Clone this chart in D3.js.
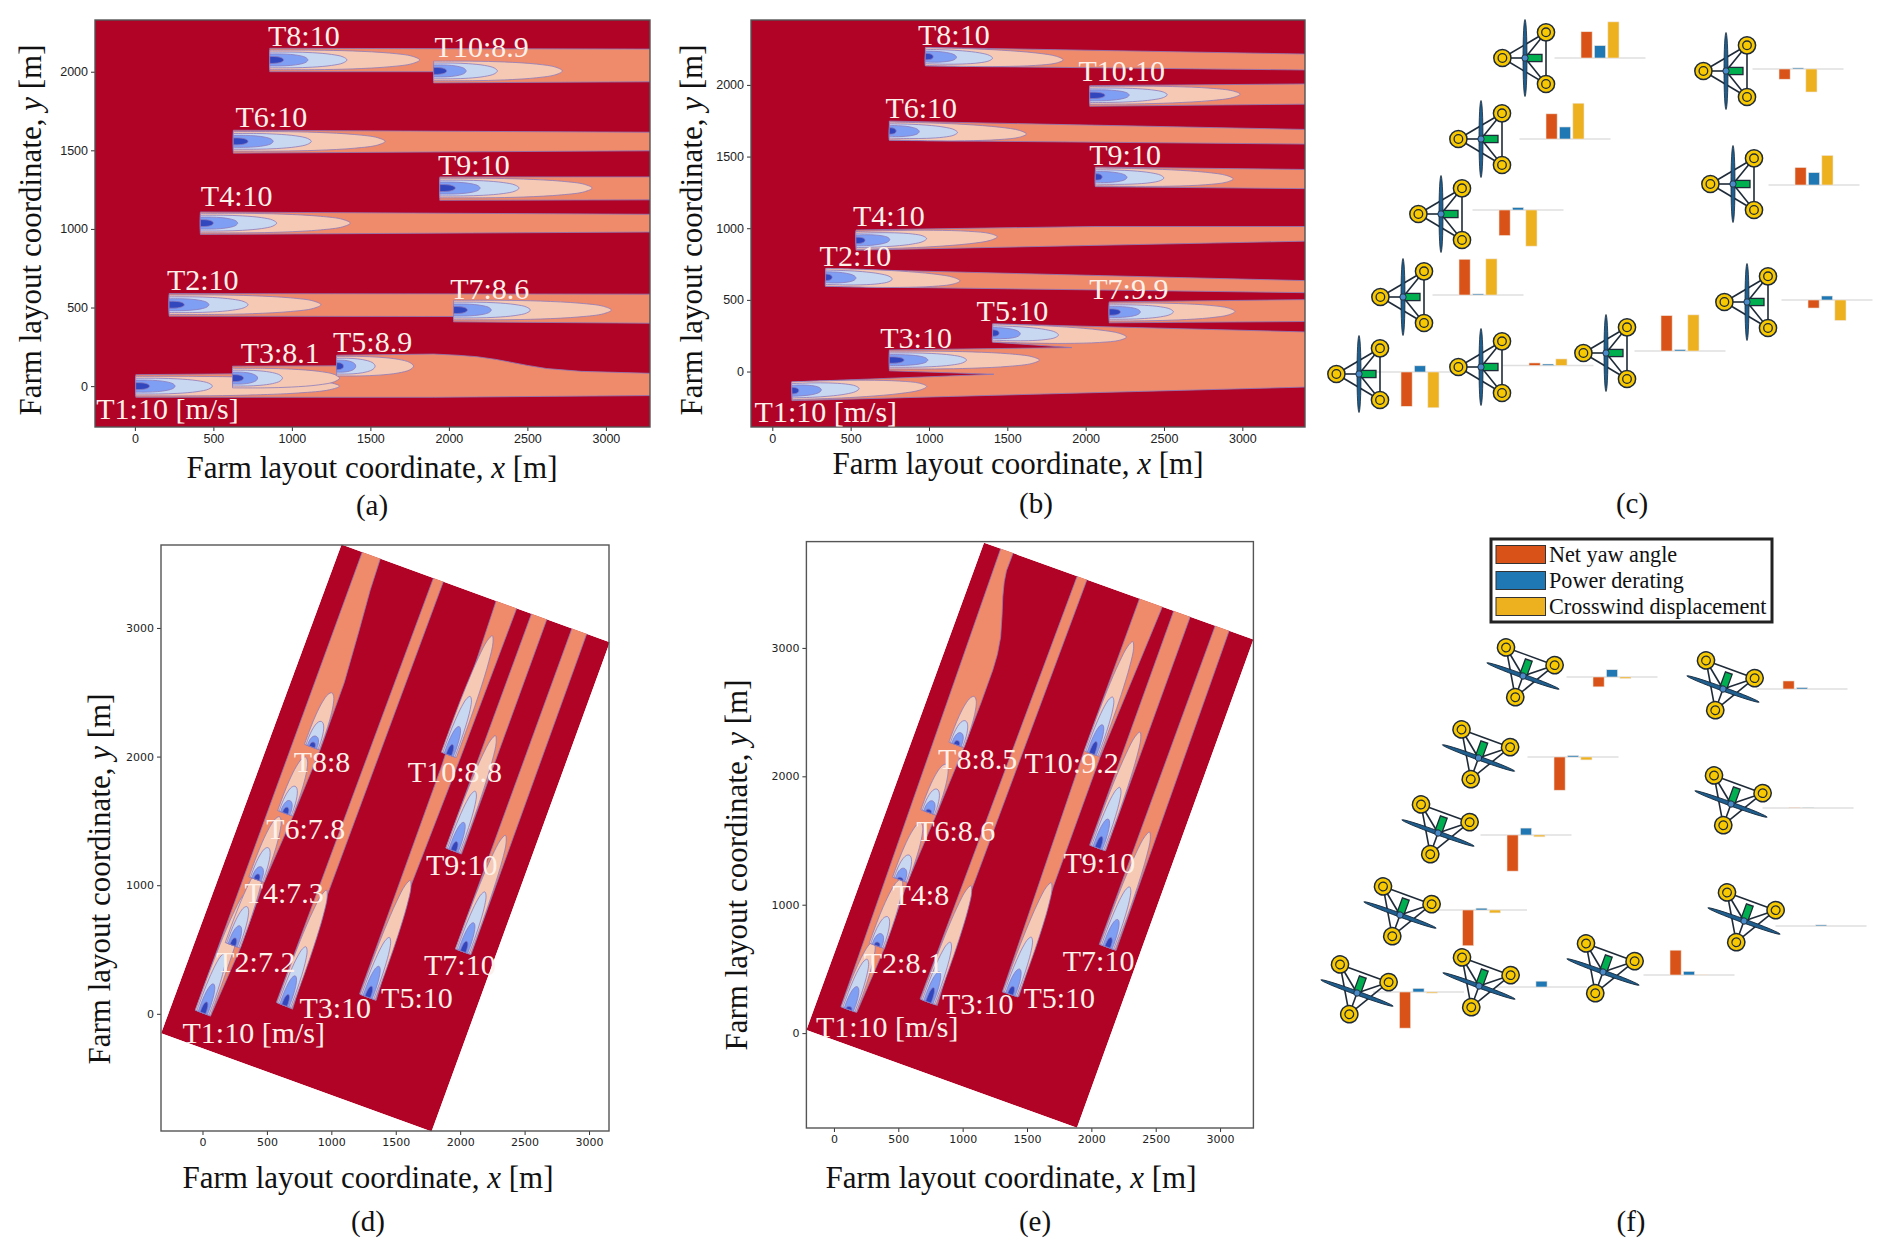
<!DOCTYPE html>
<html>
<head>
<meta charset="utf-8">
<script src="https://cdn.jsdelivr.net/npm/d3@7"></script>
<style>
  html, body { margin: 0; padding: 0; background: #fff; }
  svg { display: block; }
  text { font-family: "Liberation Serif", serif; }
</style>
</head>
<body>
<svg></svg>
<script>
const width = 1892, height = 1256;

const turbineNames = ["T1", "T2", "T3", "T4", "T5", "T6", "T7", "T8", "T9", "T10"];

// wind speed text per panel
const speedsA = ["10 [m/s]", "10", "8.1", "10", "8.9", "10", "8.6", "10", "10", "8.9"];
const speedsB = ["10 [m/s]", "10", "10", "10", "10", "10", "9.9", "10", "10", "10"];
const speedsD = ["10 [m/s]", "7.2", "10", "7.3", "10", "7.8", "10", "8", "10", "8.8"];
const speedsE = ["10 [m/s]", "8.1", "10", "8", "10", "8.6", "10", "8.5", "10", "9.2"];

// turbine rotor positions in metres, [x, y]
const turbinesA = [[5, 0], [218, 518], [622, 51], [417, 1037], [1285, 127], [627, 1557], [2030, 484], [859, 2075], [1942, 1260], [1903, 2005]];
const turbinesB = [[125, -134], [340, 658], [747, 80], [534, 915], [1406, 269], [747, 1679], [2150, 415], [977, 2198], [2062, 1358], [2026, 1927]];
const turbinesD = [[3, 7], [235, 533], [636, 65], [419, 1044], [1282, 130], [642, 1559], [2022, 483], [850, 2074], [1948, 1268], [1912, 2013]];
const turbinesE = [[116, 183], [333, 680], [734, 241], [514, 1194], [1371, 302], [734, 1719], [2126, 669], [952, 2245], [2049, 1442], [2004, 2176]];

// wake direction of each turbine, degrees
const anglesA = [0, 0, 0, 0, 0, 0, 0, 0, 0, 0];
const anglesB = [2, -1.7, 0, 1.6, -1.9, -1.4, 0.3, -1.5, -0.9, 0.5];
const anglesD = [70, 70, 70, 70, 70, 70, 70, 70, 70, 70];
const anglesE = [70, 70, 70, 70, 70, 70, 70, 70, 70, 70];

// contour lengths in metres: pale, light blue, blue, dark
const paleA = [1298, 967, 682, 955, 490, 967, 1005, 955, 970, 820];
const lightA = [489, 503, 318, 486, 245, 497, 489, 492, 505, 406];
const blueA = [251, 254, 160, 238, 122, 254, 240, 243, 257, 207];
const darkA = [88, 97, 70, 83, 44, 94, 88, 88, 99, 83];

const paleB = [861, 858, 958, 902, 855, 875, 803, 880, 880, 960];
const lightB = [429, 426, 493, 451, 421, 435, 410, 429, 437, 495];
const blueB = [188, 194, 246, 216, 177, 191, 199, 199, 202, 252];
const darkB = [44, 42, 94, 58, 42, 44, 72, 50, 44, 97];

const paleD = [1000, 650, 954, 520, 965, 465, 963, 449, 952, 986];
const lightD = [490, 320, 486, 264, 494, 224, 495, 212, 493, 484];
const blueD = [240, 161, 245, 105, 255, 105, 240, 90, 235, 235];
const darkD = [90, 60, 90, 45, 90, 50, 85, 40, 75, 85];

const paleE = [560, 551, 965, 472, 925, 398, 954, 401, 961, 929];
const lightE = [417, 242, 497, 205, 474, 193, 500, 200, 502, 470];
const blueE = [190, 100, 250, 95, 210, 95, 230, 100, 240, 240];
const darkE = [25, 30, 120, 20, 65, 25, 80, 35, 95, 100];

// half width of each contour at the rotor, metres
const wakeHalfWidths = [62, 50, 38, 22];
// contour outline, [fraction of length, fraction of half width]
const wakeProfile = [[0, 1], [0.3, 1], [0.55, 0.92], [0.8, 0.7], [0.95, 0.38], [1, 0]];

// far wake regions (salmon), outlines in metres
const farWakesA = [
  [[859, 2149], [3300, 2144], [3300, 1936], [1903, 1929], [1903, 2000], [859, 2000]],
  [[627, 1628], [3300, 1615], [3300, 1497], [627, 1482]],
  [[1942, 1331], [3300, 1331], [3300, 1185], [1942, 1182]],
  [[417, 1108], [3300, 1093], [3300, 980], [417, 965]],
  [[218, 589], [3300, 585], [3300, 400], [2030, 409], [2030, 443], [218, 445]],
  [[6, 73], [622, 78], [622, 127], [1285, 129], [1285, 197], [1903, 204], [2050, 197], [2180, 187], [2300, 170], [2400, 151], [2500, 132], [2622, 112], [2842, 94], [3300, 81], [3300, -60], [1903, -71], [6, -71]]
];
const farWakesB = [
  [[977, 2262], [3420, 2215], [3420, 2104], [977, 2132]],
  [[2026, 1995], [3420, 2007], [3420, 1866], [2026, 1851]],
  [[747, 1748], [3420, 1689], [3420, 1587], [747, 1613]],
  [[2062, 1427], [3420, 1410], [3420, 1276], [2062, 1290]],
  [[534, 988], [2051, 1012], [3420, 1012], [3420, 910], [534, 847]],
  [[340, 717], [3420, 634], [3420, 550], [340, 594]],
  [[2150, 486], [3420, 502], [3420, 349], [2150, 340]],
  [[1406, 333], [3420, 276], [3420, -108], [125, -203], [125, -73], [1414, -19], [747, 5], [747, 151], [1912, 167], [1406, 205]]
];
const farWakesD = [
  [[-56, 29], [1280, 3700], [1420, 3650], [1377, 3529], [1302, 3295], [1213, 2971], [1100, 2575], [910, 2045], [699, 1530], [476, 1019], [291, 504], [62, -18]],
  [[574, 90], [1830, 3490], [1910, 3470], [960, 900], [699, 36]],
  [[1219, 155], [1850, 1910], [2325, 3350], [2490, 3290], [1993, 1968], [1615, 990], [1347, 104]],
  [[1888, 1289], [2590, 3210], [2710, 3170], [2010, 1242]],
  [[1963, 504], [2905, 3100], [3020, 3060], [2084, 461]]
];
const farWakesE = [
  [[54, 205], [1340, 3900], [1430, 3860], [1389, 3730], [1340, 3600], [1323, 3514], [1312, 3400], [1306, 3250], [1295, 3083], [1270, 2950], [1235, 2830], [1145, 2579], [1011, 2227], [794, 1698], [571, 1176], [393, 662], [178, 162]],
  [[669, 266], [1935, 3680], [2010, 3650], [1065, 1104], [803, 216]],
  [[1308, 320], [1942, 2194], [2420, 3510], [2605, 3450], [2067, 2147], [1704, 1140], [1436, 284]],
  [[1986, 1464], [2680, 3400], [2810, 3360], [2111, 1421]],
  [[2061, 691], [3005, 3290], [3115, 3260], [2192, 644]]
];

// edge of the simulated field in the rotated panels
const fieldD = [[-321, -151], [1778, -915], [3161, 2888], [1079, 3648]];
const fieldE = [[-214, 25], [1888, -737], [3259, 3065], [1166, 3820]];

// where the turbine labels start, metres
const labelsA = [[-246, -210], [204, 611], [674, 144], [420, 1144], [1262, 219], [641, 1646], [2008, 553], [848, 2166], [1931, 1342], [1909, 2095]];
const labelsB = [[-113, -351], [302, 733], [689, 163], [515, 1017], [1304, 351], [722, 1771], [2023, 505], [930, 2278], [2023, 1441], [1954, 2026]];
const labelsD = [[-155, -227], [107, 324], [752, -29], [327, 864], [1386, 43], [494, 1358], [1719, 299], [708, 1880], [1734, 1080], [1594, 1800]];
const labelsE = [[-140, -29], [232, 468], [839, 151], [455, 996], [1472, 194], [639, 1500], [1778, 482], [809, 2058], [1784, 1248], [1481, 2022]];

const xTicks = [0, 500, 1000, 1500, 2000, 2500, 3000];
const yTicksTop = [0, 500, 1000, 1500, 2000];
const yTicksBottom = [0, 1000, 2000, 3000];

// bar values, percent of the largest action
const actions = ["Net yaw angle", "Power derating", "Crosswind displacement"];
const actionColors = ["#d95319", "#1f78b4", "#edb120"];

const yawC = [-94, 98, 7, -70, 97, 69, -22, 72, 48, -28];
const derateC = [17, 3, 4, 7, 4, 33, 11, 34, 34, 3];
const crossC = [-98, 99, 18, -99, 99, 98, -56, 99, 81, -63];

const yawF = [-99, -98, 0, -99, 68, -91, 0, -27, 0.6, 22];
const derateF = [10, 5, 16, 19, 10, 4, 3, 20, 0.6, 4];
const crossF = [-3, -8, 0, -5, 1, -8, 0, -4, 0, 0];

// page places of the small turbines and of their bar charts
const glyphsC = [[1359, 374], [1403, 297], [1481, 367], [1441, 214], [1606, 353], [1481, 139], [1747, 302], [1525, 58], [1733, 184], [1726, 71]];
const barsC = [[1420, 372], [1478, 295], [1548, 365.5], [1518, 210], [1680, 351], [1565, 139], [1827, 300], [1600, 58], [1814, 185], [1798, 69]];
const glyphsF = [[1357, 993], [1400, 915], [1479, 986], [1438, 833], [1603, 972], [1478.5, 758], [1744, 921], [1523, 676], [1731, 804], [1723, 689]];
const barsF = [[1418.5, 992], [1481.5, 910], [1541.5, 987], [1526, 835], [1689, 975], [1573, 757], [1821, 926], [1612, 677], [1808, 808], [1802, 689]];

const RED = "#b00326", SALMON = "#ef8a6b", EDGE = "#8c7bbd";
const levelColors = ["#f5c9b3", "#c9d8f1", "#7f9ff4", "#3247bd"];

const svg = d3.select("svg").attr("width", width).attr("height", height).attr("viewBox", [0, 0, width, height]);

const side = d3.line().curve(d3.curveCatmullRom.alpha(0.5));

function drawPanel(id, p) {
  const x = d3.scaleLinear().domain(p.xDomain).range(p.xRange);
  const y = d3.scaleLinear().domain(p.yDomain).range(p.yRange);
  const g = svg.append("g").attr("class", "panel-" + id);

  const field = p.field || [
    [p.xDomain[0], p.yDomain[0]], [p.xDomain[1], p.yDomain[0]],
    [p.xDomain[1], p.yDomain[1]], [p.xDomain[0], p.yDomain[1]]
  ];
  const fieldPoints = field.map(d => [x(d[0]), y(d[1])].join(",")).join(" ");

  svg.append("clipPath").attr("id", "clip-" + id).append("polygon").attr("points", fieldPoints);
  const plot = g.append("g").attr("clip-path", `url(#clip-${id})`);
  plot.append("polygon").attr("points", fieldPoints).attr("fill", RED);

  plot.selectAll("polygon.far").data(p.farWakes).join("polygon")
    .attr("class", "far")
    .attr("points", d => d.map(c => [x(c[0]), y(c[1])].join(",")).join(" "))
    .attr("fill", SALMON)
    .attr("stroke", EDGE)
    .attr("stroke-width", 0.8);

  // nested contours of every turbine, largest first
  p.levels.forEach((lengths, k) => {
    lengths.forEach((len, i) => {
      const a = p.angles[i] * Math.PI / 180;
      const t = p.turbines[i];
      const hw = wakeHalfWidths[k];
      const toPx = (u, v) => [
        x(t[0] + u * Math.cos(a) - v * Math.sin(a)),
        y(t[1] + u * Math.sin(a) + v * Math.cos(a))
      ];
      const up = wakeProfile.map(q => toPx(q[0] * len, q[1] * hw));
      const down = wakeProfile.slice(0, -1).reverse().map(q => toPx(q[0] * len, -q[1] * hw));
      plot.append("path")
        .attr("d", side(up.concat(down)) + "Z")
        .attr("fill", levelColors[k])
        .attr("stroke", EDGE)
        .attr("stroke-width", 0.8);
    });
  });

  // axes
  const xAxis = g.append("g")
    .attr("transform", `translate(0,${p.yRange[0]})`)
    .call(d3.axisBottom(x).tickValues(xTicks).tickFormat(d3.format("d")).tickSize(4).tickSizeOuter(0));
  const yAxis = g.append("g")
    .attr("transform", `translate(${p.xRange[0]},0)`)
    .call(d3.axisLeft(y).tickValues(p.yTicks).tickFormat(d3.format("d")).tickSize(4).tickSizeOuter(0));
  [xAxis, yAxis].forEach(ax => {
    ax.select(".domain").remove();
    ax.selectAll("line").attr("stroke", "#333");
    ax.selectAll("text")
      .style("font-family", p.tickFont)
      .style("font-size", p.tickSize + "px")
      .attr("fill", "#222");
  });

  g.append("rect")
    .attr("x", p.xRange[0]).attr("y", p.yRange[1])
    .attr("width", p.xRange[1] - p.xRange[0]).attr("height", p.yRange[0] - p.yRange[1])
    .attr("fill", "none").attr("stroke", "#555").attr("stroke-width", 1.4);

  // turbine labels
  g.selectAll("text.turbine").data(turbineNames).join("text")
    .attr("class", "turbine")
    .attr("x", (d, i) => x(p.labels[i][0]))
    .attr("y", (d, i) => y(p.labels[i][1]))
    .attr("fill", "#fdf1ea")
    .style("font-size", "30px")
    .text((d, i) => d + ":" + p.speeds[i]);

  // axis titles
  const xTitle = g.append("text")
    .attr("x", p.xTitle[0]).attr("y", p.xTitle[1])
    .attr("text-anchor", "middle").style("font-size", "31px").attr("fill", "#111");
  xTitle.append("tspan").text("Farm layout coordinate, ");
  xTitle.append("tspan").style("font-style", "italic").text("x");
  xTitle.append("tspan").text(" [m]");

  const yTitle = g.append("text")
    .attr("transform", `translate(${p.yTitle[0]},${p.yTitle[1]}) rotate(-90)`)
    .attr("text-anchor", "middle").style("font-size", "31px").attr("fill", "#111");
  yTitle.append("tspan").text("Farm layout coordinate, ");
  yTitle.append("tspan").style("font-style", "italic").text("y");
  yTitle.append("tspan").text(" [m]");

  g.append("text")
    .attr("x", p.caption[0]).attr("y", p.caption[1])
    .attr("text-anchor", "middle").style("font-size", "29px").attr("fill", "#111")
    .text("(" + id + ")");
}

drawPanel("a", {
  xDomain: [-254, 3281], xRange: [95, 650], yDomain: [-260, 2329], yRange: [427, 20],
  turbines: turbinesA, angles: anglesA, levels: [paleA, lightA, blueA, darkA],
  farWakes: farWakesA, labels: labelsA, speeds: speedsA, yTicks: yTicksTop,
  tickFont: "Liberation Sans", tickSize: 12.5,
  xTitle: [372, 478], yTitle: [41, 230], caption: [372, 515]
});
drawPanel("b", {
  xDomain: [-136, 3400], xRange: [751, 1305], yDomain: [-387, 2453], yRange: [427, 20],
  turbines: turbinesB, angles: anglesB, levels: [paleB, lightB, blueB, darkB],
  farWakes: farWakesB, labels: labelsB, speeds: speedsB, yTicks: yTicksTop,
  tickFont: "Liberation Sans", tickSize: 12.5,
  xTitle: [1018, 474], yTitle: [702, 230], caption: [1036, 513]
});
drawPanel("d", {
  xDomain: [-322, 3155], xRange: [161, 609], yDomain: [-911, 3645], yRange: [1131, 545],
  turbines: turbinesD, angles: anglesD, levels: [paleD, lightD, blueD, darkD],
  farWakes: farWakesD, field: fieldD, labels: labelsD, speeds: speedsD, yTicks: yTicksBottom,
  tickFont: "DejaVu Sans", tickSize: 11,
  xTitle: [368, 1188], yTitle: [110, 879], caption: [368, 1231]
});
drawPanel("e", {
  xDomain: [-214, 3259], xRange: [806.4, 1253.4], yDomain: [-739, 3828], yRange: [1128, 541.6],
  turbines: turbinesE, angles: anglesE, levels: [paleE, lightE, blueE, darkE],
  farWakes: farWakesE, field: fieldE, labels: labelsE, speeds: speedsE, yTicks: yTicksBottom,
  tickFont: "DejaVu Sans", tickSize: 11,
  xTitle: [1011, 1188], yTitle: [747, 865], caption: [1035, 1231]
});

// small bar charts with the action of each turbine
const barValue = d3.scaleLinear().domain([-100, 100]).range([36.5, -36.5]);
const barBand = d3.scaleBand().domain(actions).range([-19, 19]).paddingInner(0.17).paddingOuter(0);

function drawBars(places, series) {
  places.forEach((place, i) => {
    const g = svg.append("g").attr("transform", `translate(${place[0]},${place[1]})`);
    g.append("line").attr("x1", -45.5).attr("x2", 45.5)
      .attr("stroke", "#dfdfdf").attr("stroke-width", 1.6);
    g.selectAll("rect").data(actions).join("rect")
      .attr("x", d => barBand(d))
      .attr("width", barBand.bandwidth())
      .attr("y", (d, k) => Math.min(barValue(series[k][i]), barValue(0)))
      .attr("height", (d, k) => Math.abs(barValue(series[k][i]) - barValue(0)))
      .attr("fill", (d, k) => actionColors[k])
      .attr("stroke", "#f0e6de").attr("stroke-width", 0.6);
  });
}

// the small turbine drawing: blade, hub, nacelle, three floats
const floats = [[-22.6, 0], [21, -25.7], [21, 26]];

function drawGlyphs(places, yaw) {
  places.forEach(place => {
    const g = svg.append("g").attr("transform", `translate(${place[0]},${place[1]}) rotate(${yaw})`);
    const links = [[0, 1], [0, 2], [1, 2]];
    g.selectAll("line.link").data(links).join("line")
      .attr("class", "link")
      .attr("x1", d => floats[d[0]][0]).attr("y1", d => floats[d[0]][1])
      .attr("x2", d => floats[d[1]][0]).attr("y2", d => floats[d[1]][1])
      .attr("stroke", "#1f2b38").attr("stroke-width", 1.6);
    g.selectAll("line.spoke").data(floats).join("line")
      .attr("class", "spoke")
      .attr("x1", 0).attr("y1", 0)
      .attr("x2", d => d[0]).attr("y2", d => d[1])
      .attr("stroke", "#1f2b38").attr("stroke-width", 1.6);
    g.append("rect").attr("x", 2).attr("y", -3.6).attr("width", 15).attr("height", 7.2)
      .attr("fill", "#00b050").attr("stroke", "#1f2b38").attr("stroke-width", 1.3);
    g.append("ellipse").attr("rx", 2).attr("ry", 38.5)
      .attr("fill", "#1f5f8f").attr("stroke", "#16283a").attr("stroke-width", 0.8);
    g.append("circle").attr("r", 3.2)
      .attr("fill", "#4a8ac9").attr("stroke", "#1f2b38").attr("stroke-width", 0.9);
    g.selectAll("circle.float").data(floats).join("circle")
      .attr("class", "float")
      .attr("cx", d => d[0]).attr("cy", d => d[1]).attr("r", 8.6)
      .attr("fill", "#f8c800").attr("stroke", "#1f2b38").attr("stroke-width", 1.5);
    g.selectAll("circle.ring").data(floats).join("circle")
      .attr("class", "ring")
      .attr("cx", d => d[0]).attr("cy", d => d[1]).attr("r", 4.3)
      .attr("fill", "none").attr("stroke", "#1f2b38").attr("stroke-width", 1.3);
  });
}

drawBars(barsC, [yawC, derateC, crossC]);
drawGlyphs(glyphsC, 0);
drawBars(barsF, [yawF, derateF, crossF]);
drawGlyphs(glyphsF, -70);

svg.append("text").attr("x", 1632).attr("y", 513)
  .attr("text-anchor", "middle").style("font-size", "29px").attr("fill", "#111").text("(c)");
svg.append("text").attr("x", 1631).attr("y", 1231)
  .attr("text-anchor", "middle").style("font-size", "29px").attr("fill", "#111").text("(f)");

// legend
const legend = svg.append("g");
legend.append("rect").attr("x", 1491).attr("y", 539).attr("width", 281).attr("height", 83)
  .attr("fill", "#fff").attr("stroke", "#222").attr("stroke-width", 3);
const legendRow = d3.scalePoint().domain(actions).range([554.5, 606.5]);
actions.forEach((d, i) => {
  legend.append("rect")
    .attr("x", 1496).attr("y", legendRow(d) - 9).attr("width", 49.5).attr("height", 18)
    .attr("fill", actionColors[i]).attr("stroke", "#333").attr("stroke-width", 1);
  legend.append("text")
    .attr("x", 1549).attr("y", legendRow(d) + 7.5)
    .style("font-size", "22.2px").attr("fill", "#111").text(d);
});
</script>
</body>
</html>
